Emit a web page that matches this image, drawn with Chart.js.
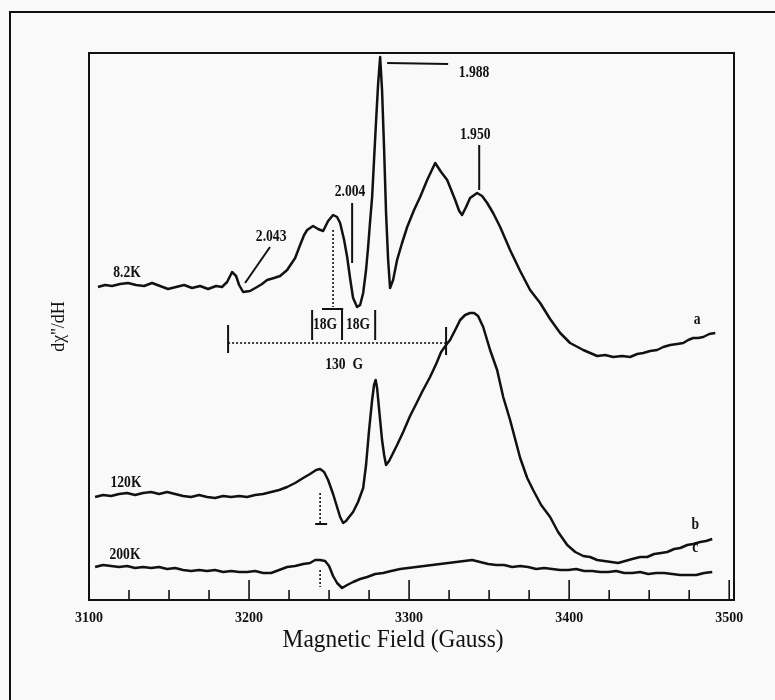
<!DOCTYPE html>
<html>
<head>
<meta charset="utf-8">
<script src="https://cdn.jsdelivr.net/npm/chart.js@4.4.0/dist/chart.umd.min.js"></script>
<style>
  html, body { margin: 0; padding: 0; background: #f8f9f8; }
  #wrap { width: 775px; height: 700px; }
</style>
</head>
<body>
<div id="wrap"><canvas id="epr" width="775" height="700"></canvas></div>
<script>
// field axis, Gauss
const fieldMin = 3100;
const fieldMax = 3503;
const labelTicks = [3100, 3200, 3300, 3400, 3500];

// trace a, 8.2K (signal in arbitrary units, traces offset as in the figure)
const fieldA = [3105.6, 3110, 3114.4, 3119.4, 3124.4, 3129.4, 3134.4, 3139.4, 3144.4, 3149.4, 3154.4, 3159.4, 3164.4, 3169.4, 3174.4, 3179.4, 3183.1, 3186.3, 3189.4, 3191.9, 3193.8, 3196.3, 3200.6, 3205, 3208.1, 3211.3, 3215.6, 3219.4, 3223.8, 3228.8, 3231.9, 3234.4, 3236.3, 3240, 3243.1, 3246.3, 3249.4, 3252.5, 3255, 3256.9, 3259.4, 3261.3, 3263.1, 3265, 3267.5, 3269.4, 3271.3, 3273.1, 3274.4, 3275.6, 3276.9, 3278.1, 3279.4, 3280.6, 3281.9, 3283.1, 3284.4, 3285.6, 3286.9, 3288.1, 3290, 3292.5, 3295.6, 3298.8, 3303.1, 3306.9, 3311.3, 3316.3, 3320, 3323.8, 3326.3, 3328.8, 3331.3, 3333.1, 3335.6, 3338.1, 3342.5, 3345.6, 3348.8, 3352.5, 3356.9, 3363.1, 3369.4, 3375.6, 3381.9, 3388.1, 3394.4, 3400.6, 3408.8, 3417.5, 3422.5, 3427.5, 3433.1, 3438.1, 3442.5, 3446.3, 3450.6, 3455, 3458.8, 3463.1, 3467.5, 3471.3, 3474.4, 3477.5, 3480.6, 3483.8, 3487.5, 3491.3];
const signalA = [313, 315, 314, 316, 317, 315, 314, 317, 314, 311, 313, 315, 312, 314, 311, 314, 313, 318, 328, 324, 315, 308, 309, 313, 316, 320, 322, 324, 330, 342, 355, 365, 370, 374, 371, 369, 379, 385, 383, 377, 360, 343, 322, 302, 293, 295, 307, 330, 353, 378, 403, 440, 480, 515, 543, 510, 450, 387, 340, 312, 320, 340, 357, 373, 390, 403, 420, 437, 428, 420, 410, 400, 389, 385, 393, 402, 407, 404, 397, 387, 373, 350, 329, 310, 297, 281, 267, 257, 250, 244, 245, 243, 244, 243, 246, 247, 249, 250, 253, 255, 256, 257, 260, 262, 262, 263, 266, 267];

// trace b, 120K
const fieldB = [3103.8, 3108.8, 3113.8, 3118.8, 3123.8, 3128.8, 3133.8, 3138.8, 3143.8, 3148.8, 3153.8, 3158.8, 3163.8, 3168.8, 3173.8, 3178.8, 3183.8, 3188.8, 3193.8, 3198.8, 3203.8, 3208.8, 3213.8, 3218.8, 3223.8, 3228.8, 3233.8, 3238.1, 3241.9, 3244.4, 3246.9, 3249.4, 3252.5, 3255, 3256.9, 3258.8, 3260.6, 3262.5, 3265, 3268.1, 3271.3, 3273.1, 3275, 3276.9, 3278.1, 3279.1, 3280, 3281.3, 3283.1, 3284.4, 3285.6, 3287.5, 3290, 3292.5, 3296.3, 3300.6, 3304.4, 3308.1, 3313.1, 3316.9, 3320, 3323.1, 3325.6, 3328.8, 3331.9, 3335, 3338.1, 3340.6, 3343.1, 3346.3, 3350.6, 3355, 3358.8, 3363.1, 3369.4, 3373.8, 3377.5, 3382.5, 3388.1, 3393.1, 3398.8, 3403.8, 3408.8, 3413.1, 3417.5, 3421.9, 3426.3, 3430.6, 3435, 3439.4, 3444.4, 3448.8, 3453.1, 3457.5, 3461.3, 3465.6, 3469.4, 3473.8, 3477.5, 3481.9, 3485.6, 3489.4];
const signalB = [103, 105, 104, 106, 107, 105, 107, 108, 106, 108, 106, 104, 103, 105, 103, 102, 104, 103, 104, 103, 105, 106, 108, 110, 113, 117, 122, 126, 130, 131, 128, 120, 106, 93, 83, 77, 79, 83, 88, 98, 112, 135, 170, 200, 215, 220, 212, 190, 160, 145, 135, 139, 147, 155, 168, 184, 196, 208, 223, 236, 248, 255, 260, 270, 280, 285, 287, 287, 284, 273, 250, 230, 203, 180, 142, 122, 110, 95, 83, 68, 55, 48, 44, 43, 40, 39, 38, 37, 39, 41, 43, 43, 46, 47, 48, 51, 52, 55, 56, 58, 59, 61];

// trace c, 200K
const fieldC = [3103.8, 3108.8, 3113.8, 3118.8, 3123.8, 3128.8, 3133.8, 3138.8, 3143.8, 3148.8, 3153.8, 3158.8, 3163.8, 3168.8, 3173.8, 3178.8, 3183.8, 3188.8, 3193.8, 3198.8, 3203.8, 3208.8, 3213.8, 3218.8, 3223.8, 3228.8, 3233.8, 3238.1, 3241.3, 3244.4, 3247.5, 3250, 3252.5, 3255, 3258.1, 3261.3, 3265, 3269.4, 3273.8, 3278.8, 3283.8, 3288.8, 3294.4, 3299.4, 3304.4, 3309.4, 3314.4, 3319.4, 3324.4, 3329.4, 3334.4, 3339.4, 3344.4, 3349.4, 3354.4, 3359.4, 3364.4, 3369.4, 3374.4, 3379.4, 3384.4, 3389.4, 3394.4, 3399.4, 3404.4, 3409.4, 3414.4, 3419.4, 3424.4, 3429.4, 3434.4, 3439.4, 3444.4, 3449.4, 3454.4, 3459.4, 3464.4, 3469.4, 3474.4, 3479.4, 3484.4, 3489.4];
const signalC = [33, 35, 34, 33, 34, 32, 33, 32, 33, 31, 32, 30, 29, 30, 29, 30, 28, 29, 28, 28, 29, 27, 27, 30, 33, 34, 36, 37, 40, 40, 39, 34, 24, 17, 12, 15, 18, 21, 23, 26, 27, 29, 31, 32, 33, 34, 35, 36, 37, 38, 39, 40, 38, 36, 35, 35, 33, 34, 33, 31, 32, 31, 30, 30, 31, 29, 29, 28, 28, 29, 27, 27, 28, 26, 27, 27, 26, 25, 25, 25, 27, 28];

// text notes placed in data units
const noteText = ['8.2K', '120K', '200K', 'a', 'b', 'c', '1.988', '1.950', '2.004', '2.043', '18G', '18G', '130  G'];
const noteField = [3123.8, 3123.1, 3122.5, 3480, 3478.8, 3478.8, 3340.6, 3341.3, 3263.1, 3213.8, 3247.5, 3268.1, 3259.4];
const noteSignal = [327, 117, 45, 280, 75, 52, 527, 465, 408, 363, 275, 275, 235];

// leader lines [x1, y1, x2, y2, dotted]
const leaders = [
  [3286.3, 537, 3324.4, 536, false],
  [3343.8, 455, 3343.8, 410, false],
  [3264.4, 397, 3264.4, 337, false],
  [3213.1, 353, 3197.5, 317, false],
  [3252.5, 370, 3252.5, 293, true],
  [3239.4, 290, 3239.4, 260, false],
  [3258.1, 290, 3258.1, 260, false],
  [3278.8, 290, 3278.8, 260, false],
  [3245.6, 291, 3258.8, 291, false],
  [3186.9, 257, 3323.1, 257, true],
  [3186.9, 275, 3186.9, 247, false],
  [3323.1, 273, 3323.1, 245, false],
  [3244.4, 107, 3244.4, 77, true],
  [3241.3, 76, 3248.8, 76, false],
  [3244.4, 30, 3244.4, 13, true]
];

const pts = (xs, ys) => xs.map((v, i) => ({ x: v, y: ys[i] }));

// narrow typewriter-like text
function squeezed(ctx, txt, cx, cy, font, sx) {
  ctx.save();
  ctx.font = font;
  ctx.translate(cx, cy);
  ctx.scale(sx, 1);
  ctx.fillText(txt, 0, 0);
  ctx.restore();
}

const decor = {
  id: 'decor',
  beforeDraw(chart) {
    const ctx = chart.ctx;
    ctx.save();
    ctx.fillStyle = '#f8f9f8';
    ctx.fillRect(0, 0, chart.width, chart.height);
    ctx.restore();
  },
  afterDraw(chart) {
    const { ctx, chartArea: ca, scales: { x, y } } = chart;
    ctx.save();
    ctx.strokeStyle = '#111';
    ctx.lineWidth = 2;
    ctx.strokeRect(ca.left, ca.top, ca.width, ca.height);
    // outer page frame, only left and top edges show
    ctx.beginPath();
    ctx.moveTo(10, 700);
    ctx.lineTo(10, 12);
    ctx.lineTo(775, 12);
    ctx.stroke();

    // inward tick marks on the field axis
    ctx.lineWidth = 1.6;
    x.ticks.forEach(t => {
      const px = x.getPixelForValue(t.value);
      const len = t.value % 100 === 0 ? 20 : 10;
      ctx.beginPath();
      ctx.moveTo(px, ca.bottom);
      ctx.lineTo(px, ca.bottom - len);
      ctx.stroke();
    });

    leaders.forEach(([x1, y1, x2, y2, dotted]) => {
      ctx.setLineDash(dotted ? [2, 2] : []);
      ctx.lineWidth = dotted ? 1.6 : 2;
      ctx.beginPath();
      ctx.moveTo(x.getPixelForValue(x1), y.getPixelForValue(y1));
      ctx.lineTo(x.getPixelForValue(x2), y.getPixelForValue(y2));
      ctx.stroke();
    });
    ctx.setLineDash([]);

    ctx.fillStyle = '#111';
    ctx.textAlign = 'center';
    ctx.textBaseline = 'middle';
    noteText.forEach((txt, i) => {
      squeezed(ctx, txt, x.getPixelForValue(noteField[i]), y.getPixelForValue(noteSignal[i]),
        'bold 16px "Liberation Serif"', 0.85);
    });

    // field axis title, sits a little left of the box centre as in the scan
    squeezed(ctx, 'Magnetic Field (Gauss)', x.getPixelForValue(3290), ca.bottom + 40,
      '26px "Liberation Serif"', 0.9);
    ctx.restore();
  }
};

const line = (data) => ({
  data,
  showLine: true,
  borderColor: '#111',
  borderWidth: 2.5,
  pointRadius: 0,
  tension: 0,
  borderJoinStyle: 'round'
});

new Chart(document.getElementById('epr'), {
  type: 'scatter',
  data: {
    datasets: [line(pts(fieldA, signalA)), line(pts(fieldB, signalB)), line(pts(fieldC, signalC))]
  },
  options: {
    responsive: false,
    animation: false,
    devicePixelRatio: 1,
    layout: { padding: { left: 40, right: 41, top: 53, bottom: 40 } },
    plugins: { legend: { display: false }, tooltip: { enabled: false } },
    scales: {
      x: {
        type: 'linear',
        min: fieldMin,
        max: fieldMax,
        afterBuildTicks: s => {
          s.ticks = [];
          for (let v = 3100; v <= 3500; v += 25) s.ticks.push({ value: v });
        },
        afterFit: s => { s.height = 60; },
        grid: { display: false, drawTicks: false },
        border: { display: false },
        ticks: {
          autoSkip: false,
          maxRotation: 0,
          padding: 10,
          color: '#111',
          font: { family: 'Liberation Serif', size: 14, weight: 'bold' },
          callback: v => labelTicks.includes(v) ? String(v) : ''
        }
      },
      y: {
        min: 0,
        max: 547,
        afterFit: s => { s.width = 49; },
        grid: { display: false, drawTicks: false },
        border: { display: false },
        ticks: { display: false },
        title: {
          display: true,
          text: "dχ''/dH",
          color: '#111',
          font: { family: 'Liberation Serif', size: 18 },
          padding: { top: 8, bottom: 0 }
        }
      }
    }
  },
  plugins: [decor]
});
</script>
</body>
</html>
